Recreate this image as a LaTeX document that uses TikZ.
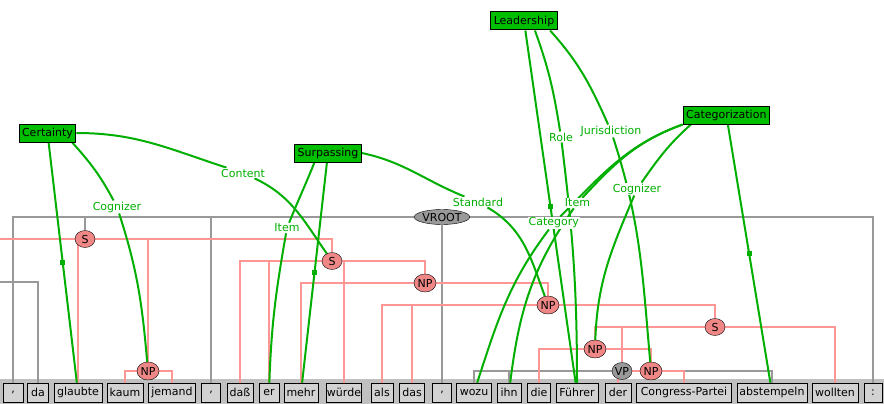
\documentclass[tikz,border=0pt]{standalone}
\usepackage{fontspec}
\setmainfont{DejaVu Sans}
\usepackage{xcolor}
\usetikzlibrary{shapes.geometric,backgrounds}

\definecolor{fegreen}{RGB}{0,175,0}
\definecolor{framegreen}{RGB}{0,190,0}
\definecolor{catline}{RGB}{255,150,150}
\definecolor{catfill}{RGB}{240,135,135}
\definecolor{edgegray}{RGB}{153,153,153}
\definecolor{stripgray}{RGB}{192,192,192}
\definecolor{wordgray}{RGB}{210,210,210}

\begin{document}
\begin{tikzpicture}[
    x=1pt, y=-1pt,
    font=\fontsize{11}{13}\selectfont,
    word/.style={draw,fill=wordgray,minimum height=19pt,inner sep=0pt},
    cat/.style={ellipse,draw,fill=catfill,inner sep=0pt,minimum width=20pt,minimum height=17pt},
    npcat/.style={cat,minimum width=22pt,minimum height=18pt},
    graycat/.style={cat,fill=edgegray},
    framebox/.style={draw,line width=1pt,fill=framegreen,minimum height=18pt,
                     inner xsep=3pt,inner ysep=0pt},
    felabel/.style={fill=white,text=fegreen,inner sep=1pt},
    tdot/.style={fill=fegreen,inner sep=0pt,minimum size=5pt},
    fe/.style={fegreen,line width=2pt},
    synedge/.style={catline,line width=2pt},
    rootedge/.style={edgegray,line width=2pt},
  ]
  \useasboundingbox (0,0) rectangle (884,404);

  % --- tokens ---
  \node[word,minimum width=19.4pt] (w1)  at (13,392.5)  {,};
  \node[word,minimum width=21pt]   (w2)  at (38,392.5)  {da};
  \node[word,minimum width=47.4pt] (w3)  at (78,392.5)  {glaubte};
  \node[word,minimum width=36pt]   (w4)  at (125,392.5) {kaum};
  \node[word,minimum width=47pt]   (w5)  at (172,392.5) {jemand};
  \node[word,minimum width=19.3pt] (w6)  at (211,392.5) {,};
  \node[word,minimum width=26.6pt] (w7)  at (240,392.5) {daß};
  \node[word,minimum width=20pt]   (w8)  at (269,392.5) {er};
  \node[word,minimum width=33.4pt] (w9)  at (301,392.5) {mehr};
  \node[word,minimum width=35.3pt] (w10) at (344,392.5) {würde};
  \node[word,minimum width=21.6pt] (w11) at (382,392.5) {als};
  \node[word,minimum width=25pt]   (w12) at (412,392.5) {das};
  \node[word,minimum width=18.7pt] (w13) at (442,392.5) {,};
  \node[word,minimum width=35pt]   (w14) at (474,392.5) {wozu};
  \node[word,minimum width=24.4pt] (w15) at (509,392.5) {ihn};
  \node[word,minimum width=23pt]   (w16) at (539,392.5) {die};
  \node[word,minimum width=41.6pt] (w17) at (577,392.5) {Führer};
  \node[word,minimum width=26pt]   (w18) at (618,392.5) {der};
  \node[word,minimum width=95pt]   (w19) at (684,392.5) {Congress-Partei};
  \node[word,minimum width=69.4pt] (w20) at (772,392.5) {abstempeln};
  \node[word,minimum width=45.4pt] (w21) at (835,392.5) {wollten};
  \node[word,minimum width=18.4pt] (w22) at (873,392.5) {:};

  % --- syntax nodes ---
  \node[graycat,minimum width=46pt,minimum height=15pt] (vroot) at (442,217) {VROOT};
  \node[cat]     (s1)  at (85,239)  {S};
  \node[npcat]   (np1) at (148,371) {NP};
  \node[cat]     (s2)  at (332,261) {S};
  \node[npcat]   (np2) at (425,283) {NP};
  \node[npcat]   (np3) at (548,305) {NP};
  \node[cat]     (s3)  at (715,327) {S};
  \node[npcat]   (np4) at (595,349) {NP};
  \node[graycat] (vp)  at (622,371) {VP};
  \node[npcat]   (np5) at (651,371) {NP};
  \coordinate (offl) at (0,239);
  \coordinate (offg) at (0,282);

  % --- frames ---
  \node[framebox] (cert)  at (47.5,133)  {Certainty};
  \node[framebox] (surp)  at (328,153)   {Surpassing};
  \node[framebox] (lead)  at (524,21)    {Leadership};
  \node[framebox] (categ) at (726.3,115) {Categorization};

  % --- frame element labels ---
  \node[felabel] (lcog1)  at (117,207)   {Cognizer};
  \node[felabel] (lcont)  at (243,173)   {Content};
  \node[felabel] (litem1) at (287,228)   {Item};
  \node[felabel] (lstd)   at (478,202)   {Standard};
  \node[felabel] (lrole)  at (561,137)   {Role};
  \node[felabel] (ljur)   at (611,131)   {Jurisdiction};
  \node[felabel] (lcog2)  at (637,189)   {Cognizer};
  \node[felabel] (litem2) at (577.5,203) {Item};
  \node[felabel] (lcat)   at (553.8,223) {Category};

  \begin{scope}[on background layer]
    \fill[white] (0,0) rectangle (884,404);
    \fill[stripgray] (0,379) rectangle (884,404);

    % --- gray edges ---
    \draw[rootedge] (vroot) -| (w1);
    \draw[rootedge] (vroot) -| (s1);
    \draw[rootedge] (vroot) -| (w6);
    \draw[rootedge] (vroot) -- (w13);
    \draw[rootedge] (vroot) -| (w22);
    \draw[rootedge] (offg) -| (w2);
    \draw[rootedge] (vp) -| (w14);
    \draw[rootedge] (vp) -| (w15);
    \draw[rootedge] (vp) -| (w20);

    % --- pink edges ---
    \draw[synedge] (s1) -- (offl);
    \draw[synedge] (s1) -| (w3);
    \draw[synedge] (s1) -| (np1);
    \draw[synedge] (s1) -| (s2);
    \draw[synedge] (np1) -| (w4);
    \draw[synedge] (np1) -| (w5);
    \draw[synedge] (s2) -| (w7);
    \draw[synedge] (s2) -| (w8);
    \draw[synedge] (s2) -| (w10);
    \draw[synedge] (s2) -| (np2);
    \draw[synedge] (np2) -| (w9);
    \draw[synedge] (np2) -| (np3);
    \draw[synedge] (np3) -| (w11);
    \draw[synedge] (np3) -| (w12);
    \draw[synedge] (np3) -| (s3);
    \draw[synedge] (s3) -| (np4);
    \draw[synedge] (s3) -| (vp);
    \draw[synedge] (s3) -| (w21);
    \draw[synedge] (np4) -| (w16);
    \draw[synedge] (np4) -| (w17);
    \draw[synedge] (np4) -| (np5);
    \draw[synedge] (np5) -| (w18);
    \draw[synedge] (np5) -| (w19);

    % --- frame edges ---
    \draw[fe] (cert) -- node[tdot]{} (w3);
    \draw[fe] (cert.-21) to[out=-48,in=118] (lcog1) to[out=-72,in=95] (np1);
    \draw[fe] (cert.east) to[out=0,in=162] (lcont) to[out=-25,in=125] (s2);
    \draw[fe] (surp) -- node[tdot]{} (w9);
    \draw[fe] (surp.-145) to[out=-112,in=68] (litem1) to[out=-100,in=88] (w8);
    \draw[fe] (surp.east) to[out=-12,in=158] (lstd) to[out=-30,in=110] (np3);
    \draw[fe] (lead) -- node[tdot]{} (w17);
    \draw[fe] (lead.-41) to[out=-70,in=99] (lrole) to[out=-83,in=90] (w17);
    \draw[fe] (lead.-20) to[out=-48,in=114] (ljur) to[out=-72,in=95] (np5);
    \draw[fe] (categ) -- node[tdot]{} (w20);
    \draw[fe] (categ.-165) to[out=-138,in=55] (lcog2) to[out=-113,in=88] (np4);
    \draw[fe] (categ.south west) to[out=-160,in=45] (lcat) to[out=-127,in=72] (w14);
    \draw[fe] (categ.south west) to[out=-160,in=47] (litem2) to[out=-125,in=83] (w15);
  \end{scope}

\end{tikzpicture}
\end{document}
